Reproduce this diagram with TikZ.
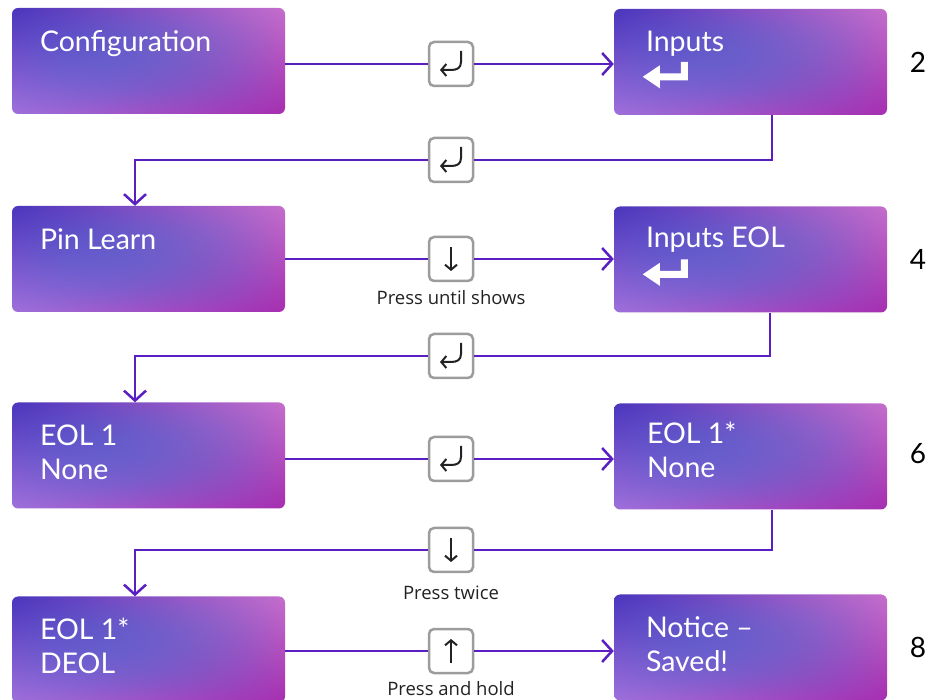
\documentclass[tikz,border=0pt]{standalone}
\usepackage{fontspec}
\setmainfont{Lato}
\newfontfamily\hintfont{Open Sans}
\usetikzlibrary{arrows.meta,calc}

\definecolor{conn}{HTML}{5A1EC2}
\definecolor{keyedge}{HTML}{9C9C9C}
\definecolor{keyink}{HTML}{222222}

% Four-corner gradient for the stage boxes (bilinear blend plus a centre term).
% Input x y in bp; the path's bounding box maps to the 25bp..75bp square.
\pgfdeclarefunctionalshading{boxgrad}{\pgfpoint{0bp}{0bp}}{\pgfpoint{100bp}{100bp}}{}{
  25 sub 50 div exch 25 sub 50 div exch
  1 index dup 1 exch sub mul
  1 index dup 1 exch sub mul mul 16 mul
  dup -0.15 mul 3 index 3 index mul 0.45 mul add 3 index 0.03 mul add 2 index -0.33 mul add 0.62 add
  3 index 3 index 3 index
  dup 0.05 mul 3 index 3 index mul 0.48 mul add 3 index -0.26 mul add 2 index -0.23 mul add 0.44 add
  4 1 roll pop pop pop
  4 index 4 index 4 index
  dup 0.02 mul 3 index 3 index mul 0.23 mul add 3 index -0.17 mul add 2 index -0.12 mul add 0.86 add
  4 1 roll pop pop pop
  6 -3 roll pop pop pop
}

% key glyphs drawn inside a key node
\newcommand\retglyph[1]{\draw[keyglyph] ($(#1)+(10,-13)$) -- ($(#1)+(10,-2)$)
  .. controls ($(#1)+(10,4)$) and ($(#1)+(6,6)$) .. ($(#1)+(0,6)$) -- ($(#1)+(-11,6)$);}
\newcommand\downglyph[1]{\draw[keyglyph] ($(#1)+(0,-12)$) -- ($(#1)+(0,12)$);}
\newcommand\upglyph[1]{\draw[keyglyph] ($(#1)+(0,12)$) -- ($(#1)+(0,-12)$);}
% white "enter" icon, offsets from a box's north west corner
\newcommand\entericon[1]{\fill[white] ($(#1)+(74,53)$) -- ($(#1)+(74,71.5)$) -- ($(#1)+(46,71.5)$)
  -- ($(#1)+(46,79.5)$) -- ($(#1)+(29,68)$) -- ($(#1)+(46,56.5)$) -- ($(#1)+(46,64.5)$)
  -- ($(#1)+(67,64.5)$) -- ($(#1)+(67,53)$) -- cycle;}

\begin{document}
\begin{tikzpicture}[x=1pt,y=-1pt,
  stage/.style={shade, shading=boxgrad, rounded corners=6pt, minimum width=273pt,
    minimum height=106pt, inner sep=0pt},
  stagetext/.style={text=white, font=\fontsize{28.5}{32}\selectfont, anchor=base west, inner sep=0pt},
  link/.style={draw=conn, line width=2.5pt},
  flow/.style={link, -{Straight Barb[length=10pt,width=22pt]}},
  key/.style={draw=keyedge, fill=white, line width=2.5pt, rounded corners=5pt,
    minimum size=44pt, inner sep=0pt},
  keyglyph/.style={draw=keyink, line width=2pt, -{Straight Barb[length=5pt,width=12pt]}},
  hint/.style={font=\hintfont\fontsize{18.5}{20}\selectfont, text=keyink, inner sep=0pt},
  stepnum/.style={font=\fontsize{28}{30}\selectfont, text=black, inner sep=0pt}
]
\useasboundingbox (0,0) rectangle (930,700);

% stage boxes
\node[stage] (cfg)    at (148.5,61)    {};
\node[stage] (inp)    at (750.5,62)    {};
\node[stage] (pin)    at (148.5,259)   {};
\node[stage] (inpeol) at (750.5,259.5) {};
\node[stage] (eol)    at (148.5,455.5) {};
\node[stage] (eolst)  at (750.5,456.5) {};
\node[stage] (deol)   at (148.5,649.5) {};
\node[stage] (saved)  at (750.5,647.5) {};

% box texts
\node[stagetext] at ($(cfg.north west)+(28,44)$) {Configuration};
\node[stagetext] at ($(inp.north west)+(32,43)$) {Inputs};
\entericon{inp.north west}
\node[stagetext] at ($(pin.north west)+(28,44)$) {Pin Learn};
\node[stagetext] at ($(inpeol.north west)+(32,41)$) {Inputs EOL};
\entericon{inpeol.north west}
\node[stagetext] at ($(eol.north west)+(28,43)$) {EOL 1};
\node[stagetext] at ($(eol.north west)+(28,77)$) {None};
\node[stagetext] at ($(eolst.north west)+(33,40)$) {EOL 1*};
\node[stagetext] at ($(eolst.north west)+(33,74)$) {None};
\node[stagetext] at ($(deol.north west)+(28,43)$) {EOL 1*};
\node[stagetext] at ($(deol.north west)+(28,77)$) {DEOL};
\node[stagetext] at ($(saved.north west)+(32,43)$) {Notice –};
\node[stagetext] at ($(saved.north west)+(32,77)$) {Saved!};

% keys
\node[key] (k1) at (451,64)  {};
\node[key] (k2) at (451,160) {};
\node[key] (k3) at (451,259) {};
\node[key] (k4) at (451,356) {};
\node[key] (k5) at (451,459) {};
\node[key] (k6) at (451,550) {};
\node[key] (k7) at (451,651) {};
\retglyph{k1}
\retglyph{k2}
\downglyph{k3}
\retglyph{k4}
\retglyph{k5}
\downglyph{k6}
\upglyph{k7}

% key hints
\node[hint] (h3) at ($(k3)+(0,39)$) {Press until shows};
\node[hint] (h6) at ($(k6)+(0,43)$) {Press twice};
\node[hint] (h7) at ($(k7)+(0,38)$) {Press and hold};

% connectors along each row
\draw[link] (cfg.east |- k1) -- (k1.west);
\draw[flow] (k1.east) -- (inp.west |- k1);
\draw[link] (pin.east |- k3) -- (k3.west);
\draw[flow] (k3.east) -- (inpeol.west |- k3);
\draw[link] (eol.east |- k5) -- (k5.west);
\draw[flow] (k5.east) -- (eolst.west |- k5);
\draw[link] (deol.east |- k7) -- (k7.west);
\draw[flow] (k7.east) -- (saved.west |- k7);

% connectors back to the left column
\draw[link] ([xshift=21.5pt]inp.south) |- (k2.east);
\draw[flow] (k2.west) -| ([xshift=-13.5pt]pin.north);
\draw[link] ([xshift=19.5pt]inpeol.south) |- (k4.east);
\draw[flow] (k4.west) -| ([xshift=-13.5pt]eol.north);
\draw[link] ([xshift=21.5pt]eolst.south) |- (k6.east);
\draw[flow] (k6.west) -| ([xshift=-13.5pt]deol.north);

% step numbers
\node[stepnum] (n2) at (918,62)  {2};
\node[stepnum] (n4) at (918,259) {4};
\node[stepnum] (n6) at (918,454) {6};
\node[stepnum] (n8) at (918,647) {8};
\end{tikzpicture}
\end{document}
